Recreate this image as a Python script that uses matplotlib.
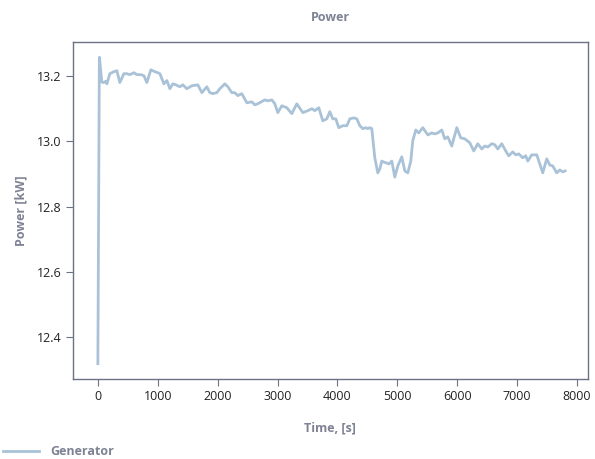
import matplotlib
matplotlib.use('Agg')
import matplotlib.pyplot as plt

# time [s] and generator power [kW]
time_s = [0, 25, 67, 100, 134, 150, 200, 267, 317, 367, 434, 484, 534, 601, 651,
          718, 768, 818, 885, 951, 1001, 1035, 1102, 1152, 1202, 1252, 1302, 1369,
          1419, 1485, 1569, 1669, 1736, 1819, 1869, 1919, 1986, 2036, 2120, 2170,
          2236, 2287, 2337, 2403, 2487, 2570, 2620, 2670, 2787, 2837, 2904, 2954,
          3004, 3071, 3154, 3238, 3321, 3421, 3505, 3572, 3622, 3688, 3755, 3822,
          3872, 3922, 3972, 4022, 4089, 4156, 4206, 4273, 4323, 4373, 4423, 4473,
          4506, 4540, 4573, 4623, 4673, 4707, 4740, 4773, 4823, 4857, 4907, 4957,
          5007, 5074, 5124, 5174, 5224, 5257, 5307, 5357, 5424, 5508, 5574, 5624,
          5675, 5741, 5791, 5841, 5908, 5992, 6058, 6125, 6209, 6275, 6342, 6409,
          6459, 6509, 6576, 6626, 6676, 6743, 6809, 6859, 6926, 6976, 7026, 7093,
          7143, 7177, 7243, 7327, 7377, 7427, 7494, 7544, 7594, 7661, 7711, 7761,
          7800]
power_kw = [12.320, 13.256, 13.180, 13.179, 13.183, 13.175, 13.206, 13.212, 13.215,
            13.179, 13.206, 13.206, 13.203, 13.209, 13.203, 13.203, 13.200, 13.179,
            13.218, 13.212, 13.209, 13.206, 13.175, 13.185, 13.160, 13.175, 13.172,
            13.166, 13.172, 13.160, 13.169, 13.172, 13.148, 13.166, 13.148, 13.145,
            13.148, 13.160, 13.175, 13.166, 13.148, 13.148, 13.139, 13.145, 13.117,
            13.120, 13.111, 13.114, 13.126, 13.123, 13.126, 13.114, 13.087, 13.108,
            13.102, 13.084, 13.114, 13.087, 13.093, 13.099, 13.093, 13.102, 13.062,
            13.068, 13.090, 13.068, 13.068, 13.041, 13.047, 13.047, 13.068, 13.071,
            13.068, 13.047, 13.038, 13.041, 13.038, 13.041, 13.038, 12.949, 12.903,
            12.915, 12.939, 12.936, 12.933, 12.930, 12.939, 12.890, 12.924, 12.952,
            12.909, 12.903, 12.939, 13.001, 13.034, 13.025, 13.041, 13.019, 13.025,
            13.022, 13.025, 13.034, 13.007, 13.013, 12.985, 13.041, 13.010, 13.007,
            12.995, 12.970, 12.992, 12.976, 12.985, 12.982, 12.992, 12.989, 12.976,
            12.992, 12.970, 12.955, 12.967, 12.958, 12.961, 12.949, 12.955, 12.939,
            12.958, 12.958, 12.930, 12.903, 12.946, 12.927, 12.924, 12.903, 12.912,
            12.906, 12.909]
x_ticks = [0, 1000, 2000, 3000, 4000, 5000, 6000, 7000, 8000]
y_ticks = [12.4, 12.6, 12.8, 13.0, 13.2]

plt.rcParams['font.family'] = ['Open Sans', 'DejaVu Sans']
grey = '#6c7286'
label_grey = '#7d8294'

fig = plt.figure(figsize=(5.95, 4.59), dpi=100)
ax = fig.add_axes([0.1227, 0.1743, 0.8653, 0.7342])
ax.plot(time_s, power_kw, color='#a9c2d7', linewidth=2.0, label='Generator')

ax.set_xlim(-415, 8180)
ax.set_xticks(x_ticks)
ax.set_yticks(y_ticks)
ax.set_yticklabels(['%.1f' % v for v in y_ticks])
ax.tick_params(axis='both', direction='out', length=5, color=grey,
               labelsize=9, labelcolor='#222222', pad=3)
for s in ax.spines.values():
    s.set_color(grey)
    s.set_linewidth(1.0)

ax.set_title('Power', fontsize=9, fontweight='bold', color=label_grey, pad=15)
ax.set_xlabel('Time, [s]', fontsize=9, fontweight='bold', color=label_grey, labelpad=13)
ax.set_ylabel('Power [kW]', fontsize=9, fontweight='bold', color=label_grey, labelpad=7)

# legend sits at the very bottom-left corner of the figure
fig.legend(loc='lower left', bbox_to_anchor=(0.0, -0.004), frameon=False,
           handlelength=2.9, handletextpad=0.9, borderaxespad=0.0, borderpad=0.2,
           prop={'size': 9, 'weight': 'bold'}, labelcolor=label_grey)

fig.savefig('out.png', dpi=100)
